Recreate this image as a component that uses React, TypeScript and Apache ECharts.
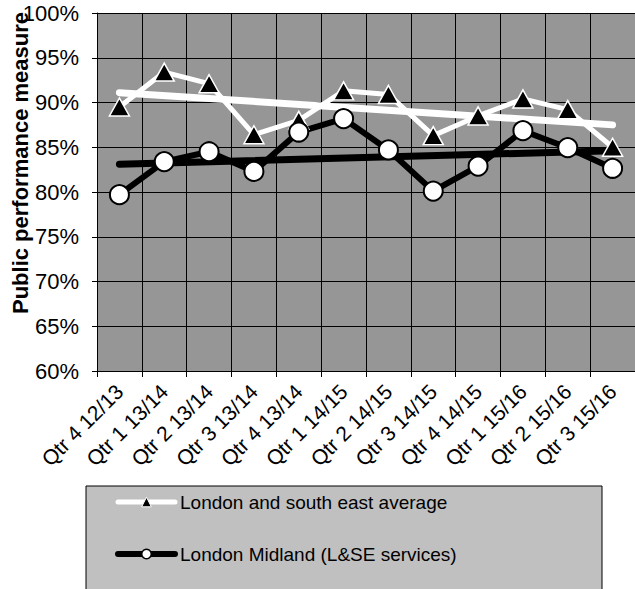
import React, { useEffect, useRef } from "react";
import * as echarts from "echarts";

// Quarterly periods on the category axis
const categories = [
  "Qtr 4 12/13",
  "Qtr 1 13/14",
  "Qtr 2 13/14",
  "Qtr 3 13/14",
  "Qtr 4 13/14",
  "Qtr 1 14/15",
  "Qtr 2 14/15",
  "Qtr 3 14/15",
  "Qtr 4 14/15",
  "Qtr 1 15/16",
  "Qtr 2 15/16",
  "Qtr 3 15/16",
];

// Public performance measure, percent
const lseAverage = [89.5, 93.4, 92.1, 86.4, 88.0, 91.3, 90.9, 86.3, 88.5, 90.4, 89.2, 85.0];
const londonMidland = [79.7, 83.4, 84.5, 82.3, 86.7, 88.2, 84.7, 80.1, 82.9, 86.85, 84.95, 82.65];

// Linear trend lines: value at first and last quarter
const lseAverageTrend = [91.1, 87.5];
const londonMidlandTrend = [83.1, 84.6];

const yTicks = { min: 60, max: 100, interval: 5 };

const SERIES_AVG = "London and south east average";
const SERIES_LM = "London Midland (L&SE services)";
const FONT = "'Liberation Sans', Arial, sans-serif";

function trendPoints(t: number[]) {
  return [
    [categories[0], t[0]],
    [categories[categories.length - 1], t[1]],
  ];
}

export default function App() {
  const ref = useRef<HTMLDivElement>(null);

  useEffect(() => {
    if (!ref.current) return;
    const chart = echarts.init(ref.current, undefined, { renderer: "svg" });

    chart.setOption({
      animation: false,
      textStyle: { fontFamily: FONT, color: "#000" },
      grid: {
        left: 97,
        top: 13,
        width: 540,
        height: 358,
        show: true,
        backgroundColor: "#969696",
        borderWidth: 0,
      },
      xAxis: {
        type: "category",
        data: categories,
        boundaryGap: true,
        axisLine: { show: true, lineStyle: { color: "#000", width: 1 } },
        axisTick: { show: true, length: 6, lineStyle: { color: "#000" } },
        splitLine: { show: true, interval: 0, lineStyle: { color: "#000", width: 1 } },
        axisLabel: {
          interval: 0,
          rotate: 45,
          margin: 17,
          fontSize: 21,
          color: "#000",
          fontFamily: FONT,
        },
      },
      yAxis: {
        type: "value",
        min: yTicks.min,
        max: yTicks.max,
        interval: yTicks.interval,
        axisLine: { show: true, lineStyle: { color: "#000", width: 1 } },
        axisTick: { show: true, length: 5, lineStyle: { color: "#000" } },
        splitLine: { show: true, lineStyle: { color: "#000", width: 1 } },
        axisLabel: {
          formatter: "{value}%",
          margin: 18,
          fontSize: 22,
          color: "#000",
          fontFamily: FONT,
        },
      },
      legend: {
        orient: "vertical",
        left: 115,
        top: 492,
        padding: 0,
        itemGap: 32,
        itemWidth: 57,
        itemHeight: 12,
        selectedMode: false,
        textStyle: { fontSize: 19, lineHeight: 20, color: "#000", fontFamily: FONT },
        data: [
          {
            name: SERIES_AVG,
            itemStyle: { color: "#000", borderColor: "#fff", borderWidth: 1 },
            lineStyle: { color: "#fff", width: 5, cap: "round" },
          },
          {
            name: SERIES_LM,
            itemStyle: { color: "#fff", borderColor: "#000", borderWidth: 1.5 },
            lineStyle: { color: "#000", width: 6, cap: "round" },
          },
        ],
      },
      graphic: [
        {
          type: "rect",
          shape: { x: 86, y: 486, width: 516, height: 120 },
          style: { fill: "#c0c0c0", stroke: "#000", lineWidth: 1 },
          z: 0,
          silent: true,
        },
        {
          type: "text",
          x: 20,
          y: 163,
          rotation: Math.PI / 2,
          style: {
            text: "Public performance measure",
            fontSize: 22,
            fontWeight: "bold",
            fontFamily: FONT,
            fill: "#000",
            align: "center",
            verticalAlign: "middle",
          },
          silent: true,
        },
      ],
      series: [
        {
          name: SERIES_AVG,
          type: "line",
          data: lseAverage,
          symbol: "triangle",
          symbolSize: [20, 18],
          lineStyle: { color: "#fff", width: 5 },
          itemStyle: { color: "#000", borderColor: "#fff", borderWidth: 1.5 },
          silent: true,
        },
        {
          name: SERIES_LM,
          type: "line",
          data: londonMidland,
          symbol: "circle",
          symbolSize: 19,
          lineStyle: { color: "#000", width: 6 },
          itemStyle: { color: "#fff", borderColor: "#000", borderWidth: 2 },
          silent: true,
        },
        {
          name: "lse-trend",
          type: "line",
          data: trendPoints(lseAverageTrend),
          symbol: "none",
          lineStyle: { color: "#fff", width: 7, cap: "round" },
          silent: true,
        },
        {
          name: "lm-trend",
          type: "line",
          data: trendPoints(londonMidlandTrend),
          symbol: "none",
          lineStyle: { color: "#000", width: 7, cap: "round" },
          silent: true,
        },
      ],
    });

    return () => chart.dispose();
  }, []);

  return (
    <div
      ref={ref}
      style={{ position: "fixed", left: 0, top: 0, width: 635, height: 589, background: "#fff" }}
    />
  );
}
